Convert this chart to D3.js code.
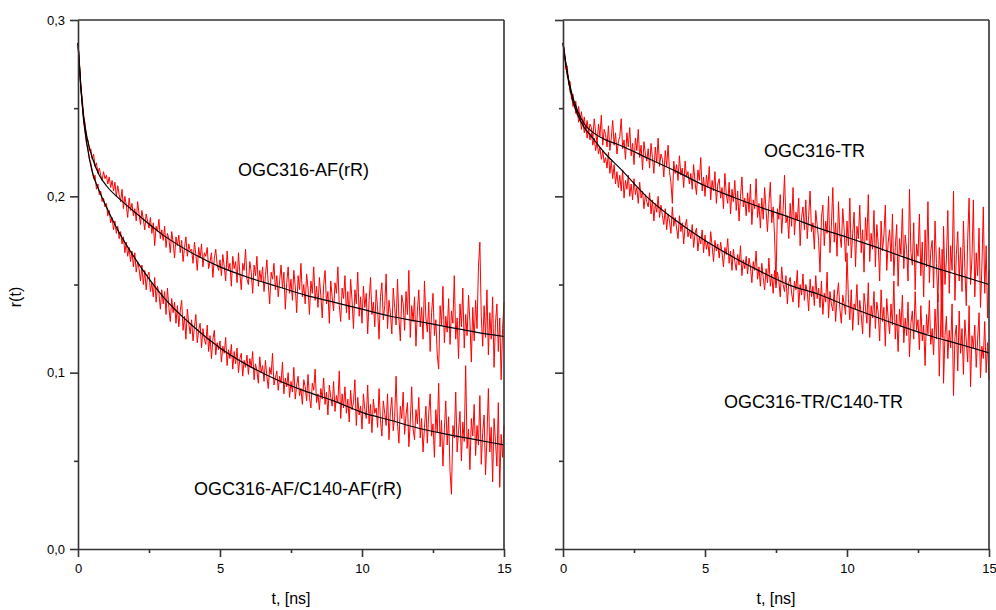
<!DOCTYPE html>
<html>
<head>
<meta charset="utf-8">
<script src="https://cdn.jsdelivr.net/npm/d3@7"></script>
<style>
  body { margin: 0; background: #fff; }
  svg { display: block; font-family: Arial, "Liberation Sans", sans-serif; }
</style>
</head>
<body>
<svg id="chart" width="996" height="610"></svg>
<script>
// measured anisotropy r(t), sampled every 0.05 ns, values in units of 0.001
const dt = 0.05;

const afSingle = [
287,276,263,255,246,241,233,232,226,227,
221,224,217,219,213,216,212,209,214,210,
212,207,211,205,209,203,208,200,206,201,
197,204,193,200,195,188,199,192,196,189,
193,186,197,190,184,192,187,181,190,186,
182,188,179,185,172,183,180,187,176,181,
175,183,171,179,176,168,180,174,165,177,
172,178,168,175,163,171,177,166,173,169,
170,162,174,167,158,171,165,173,160,168,
166,171,159,163,168,154,165,170,161,158,
164,155,167,160,152,169,158,162,149,166,
159,163,151,168,156,147,162,158,170,153,
150,163,157,145,161,155,166,149,158,152,
160,146,155,164,150,139,157,153,162,147,
155,143,152,161,148,157,136,151,160,145,
153,141,158,149,134,155,147,162,143,150,
139,156,148,133,152,145,160,141,149,137,
154,144,131,150,158,139,146,128,152,143,
135,151,145,160,138,129,148,142,155,134,
146,130,153,141,125,147,139,157,132,143,
128,149,137,145,122,141,154,133,140,126,
147,136,119,143,151,130,138,156,125,141,
134,122,148,137,127,153,131,118,144,139,
124,146,133,158,120,138,129,143,115,135,
147,126,137,119,152,131,123,140,112,134,
145,121,130,110,102,138,127,149,117,132,
123,142,116,135,128,155,119,131,108,139,
126,148,114,133,121,144,129,106,137,118,
141,125,160,174,132,115,138,120,147,110,
134,119,143,103,128,139,112,131,96,125,
140];

const afDouble = [
287,275,261,253,242,238,230,227,221,219,
215,210,212,204,207,201,203,197,199,194,
196,189,192,185,188,181,186,179,183,176,
180,173,177,168,174,166,171,163,169,160,
168,157,163,159,152,161,150,158,147,155,
157,146,151,143,154,140,149,145,136,147,
139,146,133,148,137,129,142,134,140,128,
138,126,135,141,124,132,119,136,128,122,
130,118,126,133,117,124,128,114,125,119,
116,127,112,121,108,119,124,110,117,113,
118,106,115,111,120,104,113,108,116,102,
112,105,114,100,108,111,98,107,103,110,
99,108,103,112,96,105,101,94,109,100,
104,95,107,98,91,103,99,111,93,97,
101,90,98,94,106,88,97,92,100,86,
95,89,103,85,93,98,87,91,82,96,
92,84,99,86,80,94,90,102,83,88,
79,91,85,97,82,89,76,93,86,81,
95,78,87,83,101,74,88,80,92,77,
85,72,90,79,83,96,70,86,76,81,
68,88,79,74,93,71,82,66,85,77,
80,69,91,73,64,84,77,70,88,62,
78,86,67,75,98,71,60,81,74,89,
65,76,83,58,72,92,68,62,79,71,
86,63,74,55,69,81,60,77,88,64,
71,52,79,66,94,58,73,47,68,84,
59,75,44,31,70,63,89,55,67,78,
50,72,61,104,57,68,45,74,64,82,
53,70,59,87,48,66,76,42,63,91,
55,69,38,74,61,47,83,35,65,52,
70];

const trSingle = [
287,283,272,274,263,265,255,258,250,254,
246,251,243,248,240,245,237,243,236,241,
239,233,244,236,230,241,234,246,229,238,
235,228,240,226,233,243,229,236,224,231,
234,244,227,232,221,236,228,239,223,230,
218,233,226,238,222,229,215,231,224,220,
227,216,230,222,213,228,219,233,217,224,
221,211,226,217,229,214,208,196,220,213,
218,209,223,212,216,205,220,211,214,207,
213,204,218,208,201,215,209,222,203,211,
200,212,205,217,198,209,203,214,196,207,
210,199,205,193,213,201,196,208,190,204,
197,209,192,203,186,200,211,194,199,189,
202,191,207,184,198,193,210,188,196,182,
199,187,205,192,180,196,208,185,194,177,
150,193,187,201,179,192,212,185,189,176,
196,183,205,178,191,186,199,172,188,194,
181,198,176,189,203,180,185,170,192,184,
175,157,188,195,172,186,179,200,168,183,
205,174,185,166,197,178,171,193,181,163,
186,172,199,165,179,191,160,183,176,195,
168,181,157,188,175,201,163,179,170,192,
160,184,173,152,186,169,178,195,158,174,
181,163,190,155,171,184,149,176,167,193,
159,178,170,152,204,168,161,185,147,173,
166,190,155,174,143,181,160,197,151,169,
175,148,186,162,140,171,156,120,183,150,
164,192,145,172,158,203,141,167,180,152,
171,146,186,159,138,176,199,150,165,198,
143,168,155,182,137,160,194,145,172,131,
158];

const trDouble = [
287,280,276,268,266,259,258,251,253,247,
249,242,245,238,243,236,240,233,238,232,
236,229,233,226,231,224,228,221,226,219,
222,216,225,213,220,210,218,207,214,205,
212,203,215,199,209,204,212,200,207,198,
210,201,205,196,208,199,203,193,201,197,
194,202,190,198,186,196,191,200,188,195,
189,184,193,181,190,186,179,194,183,188,
182,176,189,180,185,173,183,187,177,181,
176,184,171,179,182,169,177,173,181,168,
178,170,174,166,180,172,163,175,169,173,
165,174,168,160,171,167,176,162,169,158,
170,163,158,167,161,172,155,164,159,166,
156,165,160,151,163,158,169,153,160,149,
162,154,147,159,151,165,149,156,145,158,
148,157,152,143,160,150,146,155,139,151,
154,145,140,152,147,158,137,150,144,156,
141,150,146,135,153,143,149,138,155,142,
148,137,152,133,145,140,157,131,146,139,
135,147,129,143,151,136,128,144,139,133,
168,142,130,147,124,139,136,150,127,141,
133,122,145,137,128,151,120,138,131,146,
125,140,134,118,147,129,137,115,142,131,
122,139,127,152,119,133,112,136,126,144,
117,131,121,140,109,128,135,119,146,124,
130,113,138,118,127,104,133,122,141,116,
125,110,136,119,145,98,128,170,94,121,
132,108,124,114,139,87,120,127,101,135,
111,125,99,130,118,106,138,92,121,114,
127,103,119,134,97,115,108,129,100,117,
96];

// fitted decays (units of 0.001)
const fitT = [0, 0.1, 0.2, 0.35, 0.5, 0.75, 1, 1.5, 2, 3, 4, 5, 6, 7, 8, 9, 10, 11, 12, 13, 14, 15];
const afSingleFit = [287,262,245,231,222,212,206,198,191,178,168,160,154,149,144,140,136,132,129,126,123,120.5];
const afDoubleFit = [287,262,243,226,214,203,194,178,165,143,127,114,104,96,89.5,84,77.5,73,68.5,65,62,59];
const trSingleFit = [287,275,266,256,249,241,237,232,229,221.5,214,206,199.5,193.5,188,182,176.8,171.3,165.5,160,155,150];
const trDoubleFit = [287,275,265,254,247,239,234,224,216,199,186,175,165.5,157,149.5,144.5,137.8,131.7,125.8,120.5,116,111.2];

const xTicks = [0, 5, 10, 15];
const xMinor = [2.5, 7.5, 12.5];
const yTicks = [0, 0.1, 0.2, 0.3];
const yMinor = [0.05, 0.15, 0.25];

const svg = d3.select("#chart");
const plotTop = 20, plotBottom = 549, panelW = 426;
const y = d3.scaleLinear().domain([0, 0.3]).range([plotBottom, plotTop]);
const axisColor = "#333";

function drawPanel(x0, series, fits, labels, showYLabels) {
    const x = d3.scaleLinear().domain([0, 15]).range([x0, x0 + panelW]);
    const g = svg.append("g");

    const dataLine = d3.line().x((d, i) => x(i * dt)).y(d => y(d / 1000));
    series.forEach(s => {
        g.append("path").datum(s)
            .attr("d", dataLine)
            .attr("fill", "none")
            .attr("stroke", "#ff0000")
            .attr("stroke-width", 1)
            .attr("stroke-linejoin", "round");
    });

    const fitLine = d3.line().curve(d3.curveMonotoneX)
        .x((d, i) => x(fitT[i])).y(d => y(d / 1000));
    fits.forEach(f => {
        g.append("path").datum(f)
            .attr("d", fitLine)
            .attr("fill", "none")
            .attr("stroke", "#000")
            .attr("stroke-width", 1.2);
    });

    // frame: top and right
    g.append("line").attr("x1", x0).attr("x2", x0 + panelW).attr("y1", plotTop).attr("y2", plotTop)
        .attr("stroke", axisColor).attr("stroke-width", 1.6);
    g.append("line").attr("x1", x0 + panelW).attr("x2", x0 + panelW).attr("y1", plotTop).attr("y2", plotBottom)
        .attr("stroke", axisColor).attr("stroke-width", 1.6);

    // x axis
    g.append("g").attr("transform", `translate(0,${plotBottom})`)
        .call(d3.axisBottom(x).tickValues(xTicks).tickSize(8).tickSizeOuter(0).tickPadding(7).tickFormat(d3.format("d")));
    g.append("g").attr("transform", `translate(0,${plotBottom})`)
        .call(d3.axisBottom(x).tickValues(xMinor).tickSize(4).tickFormat(""))
        .call(a => a.select(".domain").remove());

    // y axis
    g.append("g").attr("transform", `translate(${x0},0)`)
        .call(d3.axisLeft(y).tickValues(yTicks).tickSize(8).tickSizeOuter(0).tickPadding(5)
            .tickFormat(d => showYLabels ? d3.format(".1f")(d).replace(".", ",") : ""));
    g.append("g").attr("transform", `translate(${x0},0)`)
        .call(d3.axisLeft(y).tickValues(yMinor).tickSize(4).tickFormat(""))
        .call(a => a.select(".domain").remove());

    g.selectAll(".domain, .tick line").attr("stroke", axisColor).attr("stroke-width", 1.6);
    g.selectAll(".tick text").attr("font-size", 13).attr("fill", "#000")
        .attr("font-family", "Arial, 'Liberation Sans', sans-serif");

    g.append("text")
        .attr("x", x0 + panelW / 2).attr("y", 604)
        .attr("text-anchor", "middle").attr("font-size", 16)
        .text("t, [ns]");

    labels.forEach(l => {
        g.append("text").attr("x", l.x).attr("y", l.y)
            .attr("font-size", 18).text(l.text);
    });
}

drawPanel(78, [afSingle, afDouble], [afSingleFit, afDoubleFit],
    [{ text: "OGC316-AF(rR)", x: 238, y: 176 },
     { text: "OGC316-AF/C140-AF(rR)", x: 194, y: 495 }], true);

drawPanel(563, [trSingle, trDouble], [trSingleFit, trDoubleFit],
    [{ text: "OGC316-TR", x: 764, y: 157 },
     { text: "OGC316-TR/C140-TR", x: 724, y: 408 }], false);

svg.append("text")
    .attr("transform", "translate(21,297) rotate(-90)")
    .attr("text-anchor", "middle").attr("font-size", 16)
    .text("r(t)");
</script>
</body>
</html>
